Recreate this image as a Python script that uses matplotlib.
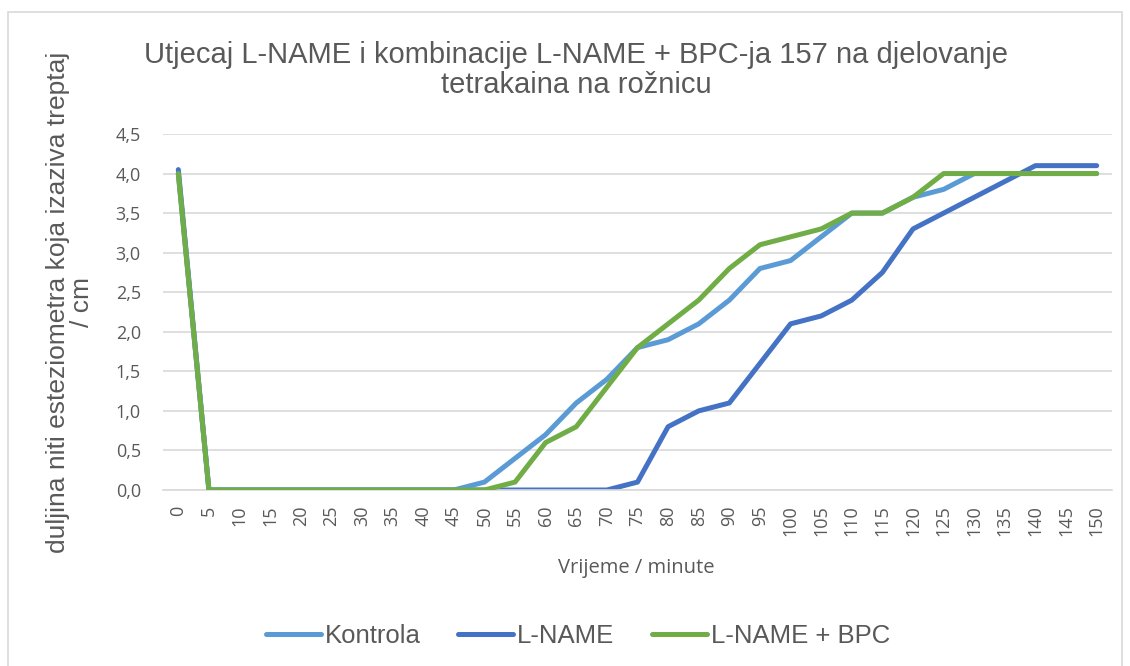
import numpy as np
import matplotlib.pyplot as plt
from matplotlib.patches import Rectangle
from matplotlib.ticker import FuncFormatter

minutes = list(range(0, 151, 5))
kontrola = [4.0, 0, 0, 0, 0, 0, 0, 0, 0, 0, 0.1, 0.4, 0.7, 1.1, 1.4, 1.8,
            1.9, 2.1, 2.4, 2.8, 2.9, 3.2, 3.5, 3.5, 3.7, 3.8, 4.0, 4.0, 4.0, 4.0, 4.0]
l_name = [4.05, 0, 0, 0, 0, 0, 0, 0, 0, 0, 0, 0, 0, 0, 0, 0.1,
          0.8, 1.0, 1.1, 1.6, 2.1, 2.2, 2.4, 2.75, 3.3, 3.5, 3.7, 3.9, 4.1, 4.1, 4.1]
l_name_bpc = [4.0, 0, 0, 0, 0, 0, 0, 0, 0, 0, 0, 0.1, 0.6, 0.8, 1.3, 1.8,
              2.1, 2.4, 2.8, 3.1, 3.2, 3.3, 3.5, 3.5, 3.7, 4.0, 4.0, 4.0, 4.0, 4.0, 4.0]

grey = "#595959"
plt.rcParams['font.family'] = ['Liberation Sans', 'DejaVu Sans']

W, H = 1130, 666
fig = plt.figure(figsize=(W / 100, H / 100), dpi=100)
# chart border (bottom edge runs off the picture)
fig.patches.append(Rectangle((8 / W, -0.05), 1 - 16 / W, 1.05 - 12 / H,
                             transform=fig.transFigure, fill=False,
                             edgecolor="#d9d9d9", lw=1.2))
ax = fig.add_axes([163 / W, 1 - 490 / H, (1112 - 163) / W, (490 - 134) / H])

x = np.arange(len(minutes))
ax.plot(x, l_name, color="#4472c4", lw=3.6, solid_capstyle="round", label="L-NAME", zorder=2)
ax.plot(x, kontrola, color="#5b9bd5", lw=3.6, solid_capstyle="round", label="Kontrola", zorder=3)
ax.plot(x, l_name_bpc, color="#70ad47", lw=3.6, solid_capstyle="round", label="L-NAME + BPC", zorder=4)

ax.set_xlim(-0.5, len(minutes) - 0.5)
ax.set_ylim(0, 4.5)
ax.set_yticks(np.arange(0, 4.51, 0.5))
ax.yaxis.set_major_formatter(FuncFormatter(lambda v, p: f"{v:.1f}".replace(".", ",")))
ax.set_xticks(x)
ax.set_xticklabels([str(m) for m in minutes], rotation=90)
ax.tick_params(axis="y", length=0, colors=grey, pad=16)
ax.tick_params(axis="x", length=0, colors=grey, pad=11)
for lab in ax.get_yticklabels() + ax.get_xticklabels():
    lab.set_family("Open Sans")
    lab.set_fontsize(13)
ax.grid(axis="y", color="#d9d9d9", lw=1.2)
ax.set_axisbelow(True)
for s in ["top", "right", "left"]:
    ax.spines[s].set_visible(False)
ax.spines["bottom"].set_color("#d9d9d9")
ax.spines["bottom"].set_linewidth(1.2)

fig.text(636 / W, 1 - 568 / H, "Vrijeme / minute", ha="center", va="center",
         fontsize=14.5, color=grey, family="Open Sans")
fig.text(70 / W, 1 - 302 / H, "duljina niti esteziometra koja izaziva treptaj\n/ cm",
         rotation=90, ha="center", va="center", fontsize=19, color=grey,
         linespacing=1.05)
fig.text(576 / W, 1 - 70 / H,
         "Utjecaj L-NAME i kombinacije L-NAME + BPC-ja 157 na djelovanje\ntetrakaina na rožnicu",
         ha="center", va="center", fontsize=21, color=grey, linespacing=1.05)

handles, labels = ax.get_legend_handles_labels()
order = [1, 0, 2]
fig.legend([handles[i] for i in order], [labels[i] for i in order],
           loc="center", bbox_to_anchor=(578 / W, 1 - 636 / H), ncol=3,
           frameon=False, fontsize=18.5, labelcolor=grey, handlelength=2.15,
           handletextpad=0.15, columnspacing=1.45)

fig.savefig("out.png", dpi=100)
